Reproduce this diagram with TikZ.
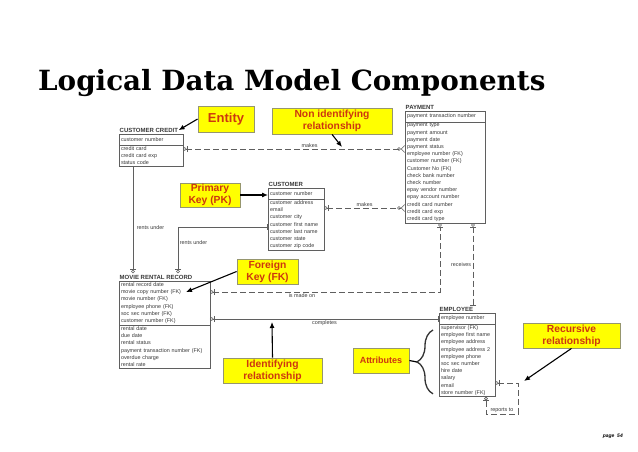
\documentclass[tikz,border=0pt]{standalone}
\usepackage{fontspec}
\setmainfont{Liberation Sans}
\newfontfamily\titlefont{DejaVu Serif}
\usetikzlibrary{positioning,arrows.meta,decorations.pathreplacing}

\definecolor{callfill}{RGB}{255,255,0}
\definecolor{calltext}{RGB}{205,55,15}
\definecolor{calldraw}{RGB}{150,150,110}
\definecolor{erline}{RGB}{95,95,95}
\definecolor{ertext}{RGB}{55,55,55}

\newcommand{\erfont}{\fontsize{5.4}{7.2}\selectfont}
\newcommand{\ertitlefont}{\fontsize{6}{7}\selectfont\bfseries}

\tikzset{
  erone/.tip={Bar[width=6pt]},
  erzo/.tip={Bar[width=6pt] Circle[open,length=3.6pt]},
  ermany/.tip={Circle[open,length=3.6pt] Straight Barb[reversed,length=3.5pt,width=7pt]}
}

\begin{document}
\begin{tikzpicture}[x=1pt, y=-1pt,
  keybox/.style={rectangle, draw=erline, line width=0.7pt, text=ertext, font=\erfont, text width=#1, align=left, inner xsep=2pt, inner ysep=1.5pt, outer sep=0pt, minimum height=11pt, anchor=north west},
  attbox/.style={keybox=#1, minimum height=0pt, anchor=north},
  etitle/.style={font=\ertitlefont, text=ertext, anchor=south west, inner xsep=0.5pt, inner ysep=1.5pt},
  rel/.style={draw=erline, line width=0.6pt},
  dashrel/.style={rel, dash pattern=on 6pt off 3pt},
  rlabel/.style={font=\erfont, text=ertext, inner sep=1.5pt},
  callout/.style={rectangle, draw=calldraw, fill=callfill, line width=0.8pt, text=calltext, font=\fontsize{10.3}{12}\selectfont\bfseries, align=center, inner sep=1pt},
  callarrow/.style={-{Latex[length=6pt,width=5pt]}, line width=1.1pt}]

    \useasboundingbox (0,0) rectangle (638,452);

    \node[font=\titlefont\fontsize{27.8}{30}\selectfont\bfseries, anchor=base west, inner sep=0pt] (title) at (38,91) {Logical Data Model Components};

    \node[keybox=60pt] (credit) at (119,134) {customer number};
    \node[attbox=60pt, below=0pt of credit] (creditatt) {credit card\\credit card exp\\status code};
    \node[etitle] (credittl) at (credit.north west) {CUSTOMER CREDIT};

    \node[keybox=76pt] (payment) at (405,111) {payment transaction number};
    \node[attbox=76pt, below=0pt of payment] (paymentatt) {payment type\\payment amount\\payment date\\payment status\\employee number (FK)\\customer number (FK)\\Customer No (FK)\\check bank number\\check number\\epay vendor number\\epay account number\\credit card number\\credit card exp\\credit card type};
    \node[etitle] (paymenttl) at (payment.north west) {PAYMENT};

    \node[keybox=52pt] (customer) at (268,188) {customer number};
    \node[attbox=52pt, below=0pt of customer] (customeratt) {customer address\\email\\customer city\\customer first name\\customer last name\\customer state\\customer zip code};
    \node[etitle] (customertl) at (customer.north west) {CUSTOMER};

    \node[keybox=87pt] (rental) at (119,281) {rental record date\\movie copy number (FK)\\movie number (FK)\\employee phone (FK)\\soc sec number (FK)\\customer number (FK)};
    \node[attbox=87pt, below=0pt of rental] (rentalatt) {rental date\\due date\\rental status\\payment transaction number (FK)\\overdue charge\\rental rate};
    \node[etitle] (rentaltl) at (rental.north west) {MOVIE RENTAL RECORD};

    \node[keybox=52pt] (employee) at (439,313) {employee number};
    \node[attbox=52pt, below=0pt of employee] (employeeatt) {supervisor (FK)\\employee first name\\employee address\\employee address 2\\employee phone\\soc sec number\\hire date\\salary\\email\\store number (FK)};
    \node[etitle] (employeetl) at (employee.north west) {EMPLOYEE};

    \draw[dashrel, {erzo}-{ermany}] (creditatt.east |- 0,149) -- node[rlabel, above, pos=0.57] {makes} (paymentatt.west |- 0,149);
    \draw[dashrel, {erzo}-{ermany}] (customeratt.east |- 0,208) -- node[rlabel, above] {makes} (paymentatt.west |- 0,208);
    \draw[rel, {erone}-{erzo}] (creditatt.south -| 133,0) -- node[rlabel, right, pos=0.57, xshift=2pt] {rents under} (rentaltl.north -| 133,0);
    \draw[rel, {erone}-{erzo}] (customeratt.west |- 0,227) -| node[rlabel, right, pos=0.67] {rents under} (rentaltl.north -| 178,0);
    \draw[dashrel, {erzo}-{erzo}] (rental.east |- 0,292) -| node[rlabel, below, pos=0.2] {is made on} (paymentatt.south -| 440,0);
    \draw[dashrel, {erzo}-{erone}] (paymentatt.south -| 473,0) -- node[rlabel, left] {receives} (employeetl.north -| 473,0);
    \draw[rel, {erzo}-{erone}] (rental.east |- 0,319) -- node[rlabel, below] {completes} (employee.west |- 0,319);

    \coordinate (reportcorner) at (518,414);
    \draw[dashrel, {erzo}-{erzo}] (employeeatt.east |- 0,383) -| (reportcorner) -| node[rlabel, above, pos=0.25] {reports to} (employeeatt.south -| 486,0);

    \node[callout, minimum width=56pt, minimum height=26pt, font=\fontsize{13}{15}\selectfont\bfseries] (entity) at (226,119) {Entity};
    \node[callout, minimum width=120pt, minimum height=26pt] (nonident) at (332,121) {Non identifying\\relationship};
    \node[callout, minimum width=60pt, minimum height=24pt] (pk) at (210,195) {Primary\\Key (PK)};
    \node[callout, minimum width=61pt, minimum height=25pt] (fk) at (267.5,271.5) {Foreign\\Key (FK)};
    \node[callout, minimum width=99pt, minimum height=25pt] (idrel) at (272.5,370.5) {Identifying\\relationship};
    \node[callout, minimum width=56pt, minimum height=25pt, font=\fontsize{9}{11}\selectfont\bfseries] (attrib) at (381,360.5) {Attributes};
    \node[callout, minimum width=97pt, minimum height=25pt] (recur) at (571.5,335.5) {Recursive\\relationship};

    \coordinate (nonidpt) at (342,147);
    \coordinate (fkpt) at (186,292);
    \coordinate (idpt) at (272,322);
    \coordinate (recpt) at (524,381);
    \coordinate (bracetip) at (417,362);

    \draw[callarrow] (entity.west) -- (credittl.east);
    \draw[callarrow] (nonident.south) -- (nonidpt);
    \draw[callarrow] (pk.east) -- (pk.east -| customer.west);
    \draw[callarrow] (fk.west) -- (fkpt);
    \draw[callarrow] (idrel.north) -- (idpt);
    \draw[callarrow] (recur.south) -- (recpt);
    \draw[line width=1.2pt] (attrib.east) -- (bracetip);
    \draw[decorate, decoration={brace, amplitude=16pt}, line width=1.3pt, draw=black!80] ([shift={(-6pt,3pt)}]employeeatt.south west) -- ([shift={(-6pt,-6pt)}]employeeatt.north west);

    \node[font=\fontsize{5}{6}\selectfont\bfseries\itshape, anchor=base east, inner sep=0pt] (page) at (623,437) {page\ \ 54};

\end{tikzpicture}
\end{document}
